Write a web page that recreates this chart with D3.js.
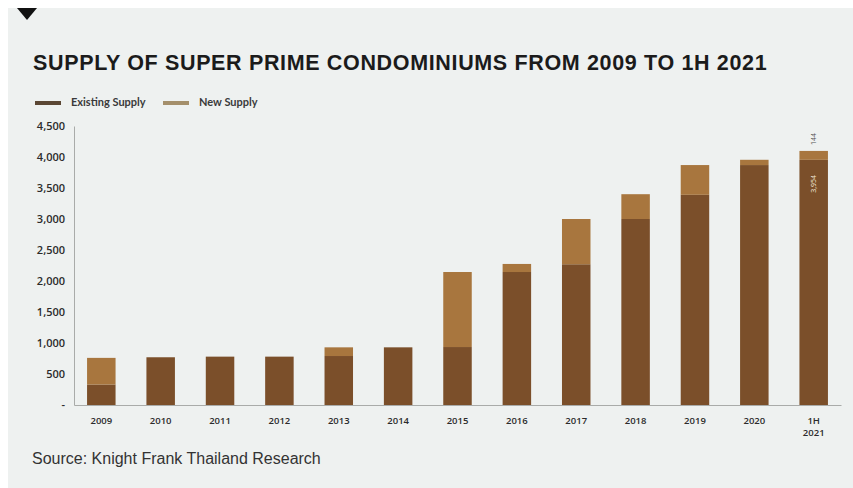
<!DOCTYPE html>
<html>
<head>
<meta charset="utf-8">
<script src="https://cdn.jsdelivr.net/npm/d3@7"></script>
<style>
  html, body { margin: 0; padding: 0; background: #ffffff; }
  svg { display: block; }
</style>
</head>
<body>
<svg id="chart" width="853" height="488"></svg>
<script>
// ---- data ----
const categories = ["2009", "2010", "2011", "2012", "2013", "2014", "2015", "2016", "2017", "2018", "2019", "2020", "1H 2021"];
const existingSupply = [330, 770, 780, 780, 790, 930, 935, 2145, 2270, 3000, 3390, 3870, 3954];
const newSupply      = [430,   0,   0,   0, 140,   0, 1210, 130, 730, 400, 480,  85, 144];
const yTicks = [0, 500, 1000, 1500, 2000, 2500, 3000, 3500, 4000, 4500];
const seriesNames = ["Existing Supply", "New Supply"];
const titleText = "SUPPLY OF SUPER PRIME CONDOMINIUMS FROM 2009 TO 1H 2021";
const sourceText = "Source: Knight Frank Thailand Research";
const annotated = { category: "1H 2021", existing: "3,954", added: "144" };

// ---- layout ----
const colors = { existing: "#7b4f2a", added: "#a8763e" };
const svg = d3.select("#chart");

// background panel
svg.append("rect").attr("x", 8).attr("y", 8).attr("width", 845).attr("height", 480).attr("fill", "#eef1f0");
// marker triangle
svg.append("path").attr("d", "M17,8 L37,8 L27,20 Z").attr("fill", "#111");

svg.append("text").attr("x", 33).attr("y", 70)
  .attr("font-family", "'Liberation Sans', Arial, sans-serif").attr("font-weight", "bold")
  .attr("font-size", 21.5).attr("letter-spacing", 0.65).attr("fill", "#1b1b1b").text(titleText);

const x = d3.scaleBand().domain(categories).range([74, 841]).paddingInner(0.52).paddingOuter(0.22);
const y = d3.scaleLinear().domain([0, 4500]).range([405, 126]);

const stackData = categories.map((c, i) => ({ cat: c, existing: existingSupply[i], added: newSupply[i] }));
const stack = d3.stack().keys(["existing", "added"])(stackData);

const g = svg.append("g");
g.selectAll("g.series").data(stack).join("g").attr("fill", d => colors[d.key])
  .selectAll("rect").data(d => d).join("rect")
  .attr("x", d => x(d.data.cat))
  .attr("width", x.bandwidth())
  .attr("y", d => y(d[1]))
  .attr("height", d => y(d[0]) - y(d[1]));

// y axis
const yAxis = d3.axisLeft(y).tickValues(yTicks).tickSize(0).tickPadding(9)
  .tickFormat(d => d === 0 ? "-" : d3.format(",")(d));
const ya = svg.append("g").attr("transform", "translate(74,0)").call(yAxis);
ya.select(".domain").attr("stroke", "#a9aba9").attr("stroke-width", 1);
ya.selectAll("text").attr("font-family", "'Open Sans', sans-serif").attr("font-weight", 600)
  .attr("font-size", 11).attr("fill", "#2b2b2b");

// x axis
const xAxis = d3.axisBottom(x).tickSize(0).tickPadding(10).tickFormat("");
const xa = svg.append("g").attr("transform", "translate(0,405)").call(xAxis);
xa.select(".domain").attr("stroke", "#a9aba9").attr("stroke-width", 1);
xa.selectAll(".tick").each(function(d) {
  const parts = d.split(" ");
  parts.forEach((p, i) => d3.select(this).append("text").attr("fill", "#2b2b2b")
    .attr("font-family", "'Open Sans', sans-serif").attr("font-weight", 600)
    .attr("font-size", 9.5).attr("text-anchor", "middle")
    .attr("x", 0).attr("y", 19 + i * 12).text(p));
});

// legend
const legend = svg.append("g").attr("font-family", "Lato, sans-serif").attr("font-size", 11)
  .attr("font-weight", "bold").attr("fill", "#3a3a3a");
const legendX = [35, 163];
const legendColors = ["#5b4734", "#a48f6b"];
seriesNames.forEach((n, i) => {
  legend.append("rect").attr("x", legendX[i]).attr("y", 101).attr("width", 26).attr("height", 4).attr("fill", legendColors[i]);
  legend.append("text").attr("x", legendX[i] + 36).attr("y", 106).text(n);
});

// annotations on last bar
const ai = categories.indexOf(annotated.category);
const cx = x(annotated.category) + x.bandwidth() / 2;
const topY = y(existingSupply[ai] + newSupply[ai]);
svg.append("text").attr("transform", `translate(${cx + 2.5},${topY - 6}) rotate(-90)`)
  .attr("font-family", "'Open Sans', sans-serif").attr("font-size", 7).attr("fill", "#555")
  .attr("text-anchor", "start").text(annotated.added);
svg.append("text").attr("transform", `translate(${cx + 2.5},${y(existingSupply[ai]) + 24}) rotate(-90)`)
  .attr("font-family", "'Open Sans', sans-serif").attr("font-size", 7).attr("fill", "#f1e6d8")
  .attr("text-anchor", "middle").text(annotated.existing);

svg.append("text").attr("x", 32).attr("y", 464)
  .attr("font-family", "'Liberation Sans', Arial, sans-serif").attr("font-size", 16)
  .attr("fill", "#333").text(sourceText);
</script>
</body>
</html>
